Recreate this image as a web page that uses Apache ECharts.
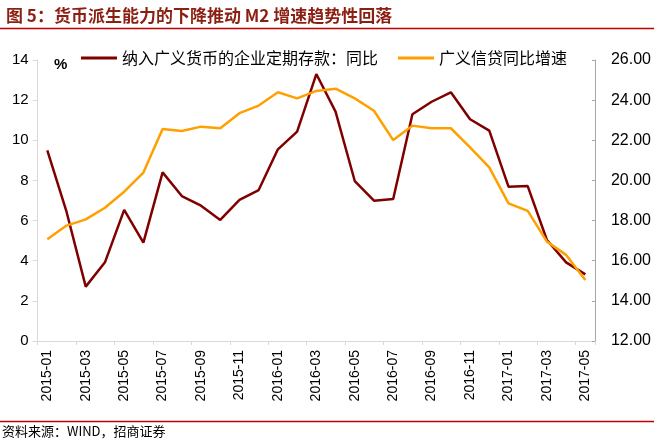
<!DOCTYPE html>
<html>
<head>
<meta charset="utf-8">
<script src="https://cdn.jsdelivr.net/npm/echarts@6/dist/echarts.min.js"></script>
<style>
html,body{margin:0;padding:0;background:#fff;}
#chart{width:654px;height:443px;}
</style>
</head>
<body>
<div id="chart"></div>
<script>
const categories = ['2015-01','2015-02','2015-03','2015-04','2015-05','2015-06','2015-07','2015-08','2015-09','2015-10','2015-11','2015-12',
  '2016-01','2016-02','2016-03','2016-04','2016-05','2016-06','2016-07','2016-08','2016-09','2016-10','2016-11','2016-12',
  '2017-01','2017-02','2017-03','2017-04','2017-05'];
const depositName = '纳入广义货币的企业定期存款：同比';
const depositYoY = [9.50, 6.44, 2.71, 3.92, 6.53, 4.90, 8.40, 7.22, 6.74, 6.03, 7.03, 7.52,
  9.55, 10.43, 13.30, 11.43, 7.97, 6.99, 7.07, 11.30, 11.92, 12.39, 11.05, 10.48,
  7.69, 7.72, 5.03, 3.92, 3.32];
const creditName = '广义信贷同比增速';
const creditYoY = [17.07, 17.75, 18.06, 18.64, 19.44, 20.39, 22.56, 22.46, 22.68, 22.60, 23.35, 23.73,
  24.39, 24.09, 24.46, 24.57, 24.09, 23.47, 22.01, 22.73, 22.60, 22.60, 21.65, 20.65,
  18.86, 18.48, 16.95, 16.29, 15.04];
const leftTicks = {min: 0, max: 14, interval: 2};
const rightTicks = {min: 12, max: 26, interval: 2};
const titleText = '图 5：货币派生能力的下降推动 M2 增速趋势性回落';
const sourceText = '资料来源：WIND，招商证券';

const chart = echarts.init(document.getElementById('chart'), null, {renderer: 'canvas'});
const axisFont = 'Arial, "Liberation Sans", sans-serif';
chart.setOption({
  animation: false,
  backgroundColor: '#fff',
  title: {
    text: titleText, left: 1, top: 2,
    textStyle: {fontFamily: '"Noto Sans CJK SC", serif', fontSize: 17, fontWeight: 'bold', color: '#8b1f12'}
  },
  graphic: [
    {type: 'line', shape: {x1: 0, y1: 28.5, x2: 654, y2: 28.5}, style: {stroke: '#c00000', lineWidth: 1.5}},
    {type: 'line', shape: {x1: 0, y1: 421.5, x2: 654, y2: 421.5}, style: {stroke: '#c00000', lineWidth: 1.5}},
    {type: 'text', left: 2, top: 425, style: {text: sourceText, font: '13px "Noto Sans CJK SC", sans-serif', fill: '#000'}},
    {type: 'text', left: 54, top: 57, style: {text: '%', font: 'bold 15px Arial, "Liberation Sans", sans-serif', fill: '#000'}}
  ],
  legend: {
    left: 76, top: 45,
    itemWidth: 36, itemHeight: 3, itemGap: 20, icon: 'rect',
    textStyle: {fontFamily: '"Noto Sans CJK SC", sans-serif', fontSize: 16, color: '#000'},
    data: [depositName, creditName]
  },
  grid: {left: 37.7, right: 59, top: 60, bottom: 102, containLabel: false},
  xAxis: {
    type: 'category', data: categories, boundaryGap: true,
    axisLine: {lineStyle: {color: '#d9d9d9', width: 1}},
    axisTick: {show: true, interval: 1, alignWithLabel: false, length: 4, lineStyle: {color: '#d9d9d9'}},
    axisLabel: {interval: 1, rotate: 90, margin: 9, fontFamily: axisFont, fontSize: 14, color: '#000'},
    splitLine: {show: false}
  },
  yAxis: [
    {
      type: 'value', min: leftTicks.min, max: leftTicks.max, interval: leftTicks.interval, position: 'left',
      axisLine: {show: true, lineStyle: {color: '#d9d9d9'}},
      axisTick: {show: true, length: 5, lineStyle: {color: '#d9d9d9'}},
      axisLabel: {margin: 9, fontFamily: axisFont, fontSize: 15, color: '#000'},
      splitLine: {show: false}
    },
    {
      type: 'value', min: rightTicks.min, max: rightTicks.max, interval: rightTicks.interval, position: 'right',
      axisLine: {show: true, lineStyle: {color: '#a6a6a6'}},
      axisTick: {show: true, inside: true, length: 3, lineStyle: {color: '#a6a6a6'}},
      axisLabel: {margin: 16, fontFamily: axisFont, fontSize: 16, color: '#000', formatter: v => v.toFixed(2)},
      splitLine: {show: false}
    }
  ],
  series: [
    {name: depositName, type: 'line', yAxisIndex: 0, data: depositYoY, symbol: 'none',
     lineStyle: {color: '#800000', width: 2.5}, itemStyle: {color: '#800000'}},
    {name: creditName, type: 'line', yAxisIndex: 1, data: creditYoY, symbol: 'none',
     lineStyle: {color: '#ffa000', width: 2.5}, itemStyle: {color: '#ffa000'}}
  ]
});
</script>
</body>
</html>
